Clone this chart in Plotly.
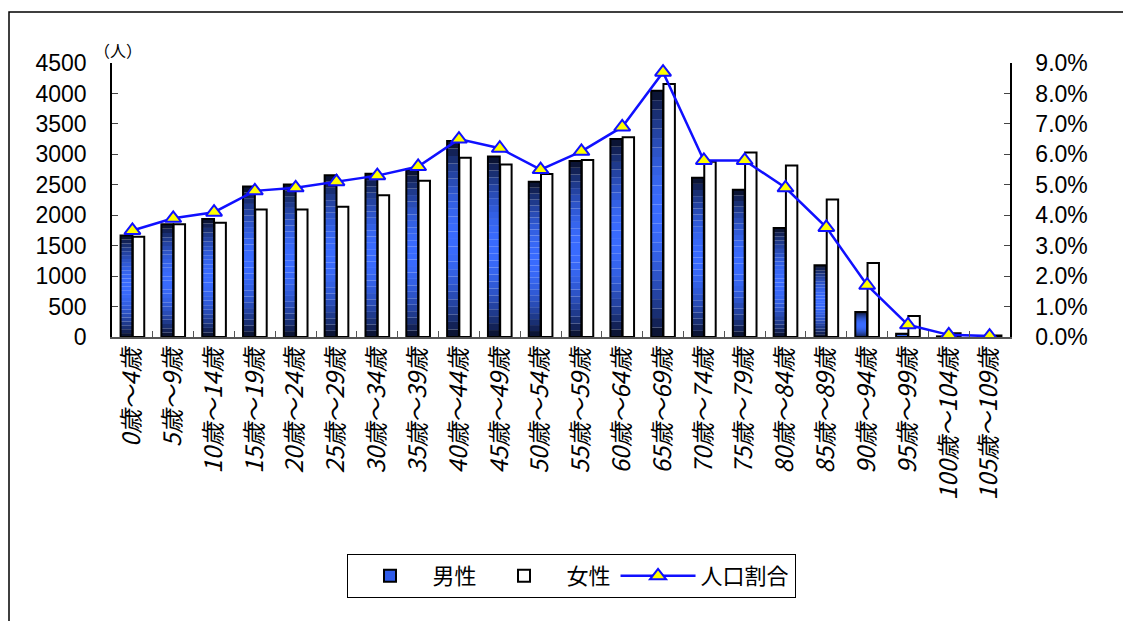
import plotly.graph_objects as go
import math

categories = ['0歳～4歳', '5歳～9歳', '10歳～14歳', '15歳～19歳', '20歳～24歳', '25歳～29歳',
              '30歳～34歳', '35歳～39歳', '40歳～44歳', '45歳～49歳', '50歳～54歳', '55歳～59歳',
              '60歳～64歳', '65歳～69歳', '70歳～74歳', '75歳～79歳', '80歳～84歳', '85歳～89歳',
              '90歳～94歳', '95歳～99歳', '100歳～104歳', '105歳～109歳']
male = [1665, 1850, 1940, 2470, 2505, 2655, 2680, 2755, 3220, 2965, 2550, 2890,
        3250, 4045, 2615, 2420, 1790, 1180, 410, 55, 10, 3]
female = [1645, 1850, 1875, 2095, 2095, 2140, 2330, 2565, 2945, 2835, 2675, 2905,
          3280, 4155, 2880, 3030, 2815, 2260, 1215, 345, 60, 25]
ratio = [3.5, 3.9, 4.1, 4.8, 4.9, 5.1, 5.3, 5.6, 6.5, 6.2, 5.5, 6.1,
         6.9, 8.7, 5.8, 5.8, 4.9, 3.6, 1.7, 0.4, 0.07, 0.03]
left_ticks = [0, 500, 1000, 1500, 2000, 2500, 3000, 3500, 4000, 4500]
right_ticks = [0, 1, 2, 3, 4, 5, 6, 7, 8, 9]
right_labels = ['%.1f%%' % v for v in right_ticks]

# screen geometry (page has 8px body margin)
OFF = 8
W, H = 1131 - 2 * OFF, 629 - 2 * OFF
L, R, T, B = 112, 1010, 63, 337   # screen pixels of plot area
FONT = "Liberation Sans, Arial, Noto Sans CJK JP"
JFONT = "Noto Sans CJK JP, Liberation Sans"

fig = go.Figure()

M_OFF, M_W = -0.29, 0.29
F_OFF, F_W = 0.01, 0.28

# vertical gradient for male bars (dark ends, bright middle) via stacked segments
N = 26
dark = (6, 10, 30)
bright = (58, 108, 255)
for k in range(N):
    t = (k + 0.5) / N
    s = math.sin(math.pi * t) ** 0.8
    c = tuple(int(dark[i] + (bright[i] - dark[i]) * s) for i in range(3))
    fig.add_trace(go.Bar(
        x=categories, y=[v / N for v in male], base=[v * k / N for v in male],
        offset=M_OFF, width=M_W, marker=dict(color='rgb(%d,%d,%d)' % c, line=dict(width=0)),
        showlegend=False, hoverinfo='skip'))

# outline of male bars
fig.add_trace(go.Bar(x=categories, y=male, offset=M_OFF, width=M_W,
                     marker=dict(color='rgba(0,0,0,0)', line=dict(color='black', width=2)),
                     showlegend=False, name='男性'))
# legend entry for male
fig.add_trace(go.Bar(x=categories, y=[None] * len(categories), offset=M_OFF, width=M_W,
                     name='男性', legendrank=1,
                     marker=dict(color='#2f5be8', line=dict(color='black', width=2))))
fig.add_trace(go.Bar(x=categories, y=female, offset=F_OFF, width=F_W, name='女性', legendrank=2,
                     marker=dict(color='white', line=dict(color='black', width=2))))
fig.add_trace(go.Scatter(x=categories, y=ratio, yaxis='y2', name='人口割合', legendrank=3,
                         mode='lines+markers',
                         line=dict(color='#1010ff', width=2.5),
                         marker=dict(symbol='triangle-up', size=14, color='#ffff00',
                                     line=dict(color='#1010ff', width=2))))

pw = R - L
ph = B - T
def px(x):
    return (x - L) / pw
def py(y):
    return (B - y) / ph

fig.update_layout(
    width=W, height=H,
    margin=dict(l=L - OFF, r=W - (R - OFF), t=T - OFF, b=H - (B - OFF), autoexpand=False),
    paper_bgcolor='white', plot_bgcolor='white',
    barmode='overlay', bargap=0.4,
    showlegend=True,
    legend=dict(orientation='h', x=px(571), xanchor='center', y=py(554), yanchor='top',
                bordercolor='black', borderwidth=1, bgcolor='white',
                font=dict(family=JFONT, size=22, color='black'),
                itemwidth=75, traceorder='normal'),
    xaxis=dict(type='category', range=[-0.5, len(categories) - 0.5], automargin=False,
               showline=True, linecolor='#555', linewidth=1.5,
               ticks='inside', ticklen=6, tickcolor='#555', tickson='boundaries',
               tickangle=-90, showgrid=False, zeroline=False,
               tickfont=dict(family=JFONT, size=24, color='black', style='italic')),
    yaxis=dict(range=[0, 4500], tickvals=left_ticks, showline=True, linecolor='black',
               automargin=False,
               linewidth=1.5, ticks='inside', ticklen=6, showgrid=False, zeroline=False,
               ticklabelstandoff=19,
               tickfont=dict(family=FONT, size=23, color='black')),
    yaxis2=dict(range=[0, 9], tickvals=right_ticks, ticktext=right_labels,
                overlaying='y', side='right', automargin=False,
                showline=True, linecolor='black',
                linewidth=1.5, ticks='inside', ticklen=6, showgrid=False, zeroline=False,
                ticklabelstandoff=19,
                tickfont=dict(family=FONT, size=23, color='black')),
    annotations=[dict(text='（人）', xref='paper', yref='paper', x=px(118), y=py(50),
                      xanchor='center', yanchor='middle',
                      showarrow=False, font=dict(family=JFONT, size=16, color='black'))],
    shapes=[dict(type='rect', xref='paper', yref='paper', x0=px(9), x1=px(1140),
                 y0=py(640), y1=py(12), line=dict(color='black', width=1.5),
                 fillcolor='rgba(0,0,0,0)', layer='below')],
)

fig.write_html('out.html')
